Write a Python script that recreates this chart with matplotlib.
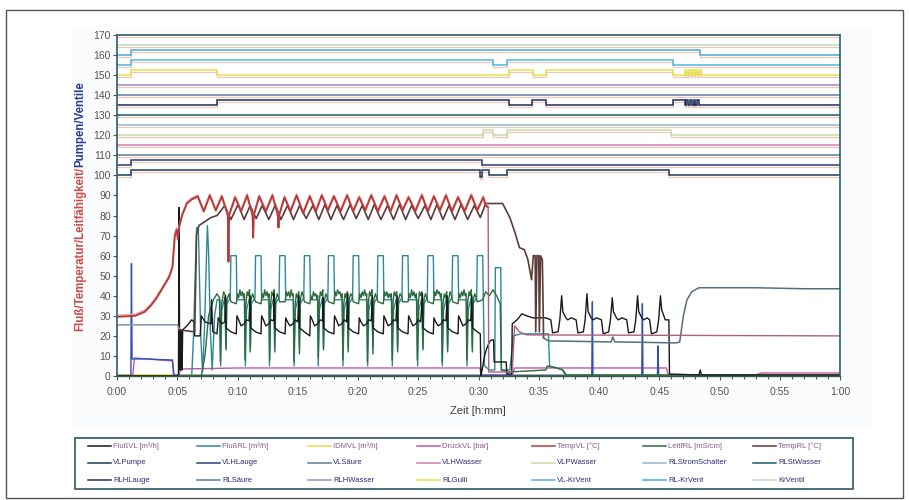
import matplotlib
matplotlib.use('Agg')
import matplotlib.pyplot as plt
from matplotlib.lines import Line2D
from matplotlib.patches import Rectangle

plt.rcParams['font.family'] = ['Liberation Sans', 'DejaVu Sans']

# ---------------- data (time in minutes) ----------------
x_ticks = [0, 5, 10, 15, 20, 25, 30, 35, 40, 45, 50, 55, 60]
x_labels = ["0:00", "0:05", "0:10", "0:15", "0:20", "0:25", "0:30",
            "0:35", "0:40", "0:45", "0:50", "0:55", "1:00"]
y_ticks = list(range(0, 171, 10))

# analog series
tempvl_t = [0, 1.5, 2.3, 2.8, 3.3, 3.8, 4.3, 4.6, 4.7, 4.8, 4.95, 5.05, 5.15, 5.4, 5.8, 6.2, 6.7,
            7.2, 7.7, 8.2, 8.7, 9.2, 9.25, 9.3, 9.8, 10.3, 10.8, 11.25, 11.3, 11.35, 11.8, 12.35,
            12.9, 13.35, 13.4, 13.45, 13.9, 14.4, 14.9, 15.45, 16.0, 16.5, 17.0, 17.5, 18.0, 18.55,
            19.1, 19.6, 20.1, 20.6, 21.1, 21.65, 22.2, 22.7, 23.2, 23.7, 24.2, 24.75, 25.3, 25.8,
            26.3, 26.8, 27.3, 27.8, 28.3, 28.85, 29.4, 29.9, 30.4, 30.6, 30.8, 30.85, 32.8, 33.0,
            33.4, 34.0, 60]
tempvl_v = [29.5, 30, 32, 35, 39, 44, 49, 54, 62, 70, 73, 68, 74, 80, 86, 88, 89.5,
            82, 90, 82.5, 89.5, 80, 57, 80, 89, 82, 90, 80, 69, 80, 89.5, 82,
            90, 80, 74, 80, 89, 82, 90, 81, 89.5, 82, 90, 82.5, 89.5, 82,
            90, 82, 89, 82.5, 90, 82, 89.5, 82, 90, 82.5, 89, 82, 90, 82,
            89.5, 82.5, 90, 82, 89, 82, 90, 82.5, 89, 85, 84, 2, 2, 25,
            22, 20.5, 20]

temprl_t = [0, 5.0, 5.2, 6.45, 6.6, 6.8, 7.3, 7.8, 8.3, 8.95, 9.45, 10.05, 10.55, 11.05, 11.55,
            12.05, 12.6, 13.15, 13.6, 14.15, 14.65, 15.15, 15.7, 16.25, 16.75, 17.25, 17.75, 18.25,
            18.8, 19.35, 19.85, 20.35, 20.85, 21.35, 21.9, 22.45, 22.95, 23.45, 23.95, 24.45, 25.0,
            25.55, 26.05, 26.55, 27.05, 27.55, 28.05, 28.55, 29.1, 29.65, 30.15, 30.6, 32.0, 32.6,
            33.0, 33.4, 33.8, 34.1, 34.4, 34.55, 34.7, 34.75, 34.85, 35.0, 35.05, 35.15, 35.3, 35.4,
            35.8, 41.0, 41.15, 41.3, 46.4, 46.7, 47.0, 47.3, 47.7, 48.3, 53, 57, 60]
temprl_v = [25.5, 25.5, 23, 22, 70, 75, 77, 79, 80, 85, 78, 85.5, 78, 85, 78.5,
            85, 78, 85.5, 78, 85, 78, 85, 78.5, 85, 78, 85.5, 78, 85,
            78, 85.5, 78.5, 85, 78, 85.5, 78, 85, 78, 85.5, 78, 85, 78.5,
            85, 78, 85.5, 78, 85, 78, 85.5, 78, 85, 79, 86, 86, 79,
            72, 64, 63, 58, 48, 60, 60, 22, 60, 60, 22, 60, 58, 19,
            17.5, 17, 19.5, 17, 16.5, 17, 30, 38, 42, 44, 44, 43.5, 43.5]

flussvl_t = [0, 5.1, 5.15, 5.2, 5.25, 5.3, 5.35, 5.4, 5.45, 5.8, 6.2, 6.4, 6.45, 6.9, 7.0, 7.3, 7.8,
             7.85, 7.95, 8.3, 8.4, 8.7, 8.95, 9.0, 9.05,
             9.45, 9.9, 9.95, 10.1, 10.3, 10.55, 10.75, 10.95, 11.05, 11.1,
             11.5, 11.95, 12.0, 12.15, 12.35, 12.6, 12.8, 13.0, 13.05, 13.1,
             13.5, 13.95, 14.0, 14.15, 14.35, 14.6, 14.8, 15.0, 15.1, 15.15,
             15.55, 16.0, 16.05, 16.2, 16.4, 16.65, 16.85, 17.05, 17.1, 17.15,
             17.55, 18.0, 18.05, 18.2, 18.4, 18.65, 18.85, 19.05, 19.15, 19.2,
             19.6, 20.05, 20.1, 20.25, 20.45, 20.7, 20.9, 21.1, 21.2, 21.25,
             21.65, 22.1, 22.15, 22.3, 22.5, 22.75, 22.95, 23.15, 23.25, 23.3,
             23.7, 24.15, 24.2, 24.35, 24.55, 24.8, 25.0, 25.2, 25.35, 25.4,
             25.8, 26.25, 26.3, 26.45, 26.65, 26.9, 27.1, 27.3, 27.4, 27.45,
             27.85, 28.3, 28.35, 28.5, 28.7, 28.95, 29.15, 29.35, 29.45, 29.5,
             29.9, 30.15, 30.2, 30.3, 30.5, 30.7, 30.9, 31.1, 31.25, 31.3, 32.3, 32.35, 32.75,
             32.8, 33.2, 33.6, 34.0, 34.5,
             35.6, 36.0, 36.15, 36.6, 36.75, 36.9, 37.0, 37.25, 37.4,
             37.7, 38.1, 38.25, 38.7, 38.85, 39.0, 39.1, 39.35, 39.5,
             39.8, 40.2, 40.35, 40.8, 40.95, 41.1, 41.2, 41.45, 41.6,
             41.9, 42.3, 42.45, 42.9, 43.05, 43.2, 43.3, 43.55, 43.7,
             44.0, 44.2, 44.35, 44.8, 44.95, 45.1, 45.2, 45.5, 45.8, 45.85, 48.3, 48.4, 48.5, 60]
flussvl_v = [0, 0, 84, 3, 23, 3, 23, 3, 23, 25, 28, 27, 20, 20, 30, 27, 26,
             38, 22, 21, 29, 26, 27, 40, 24,
             22, 21, 30, 28, 25, 26, 28, 27.5, 40, 24,
             22, 21, 30, 28, 25, 26, 28, 27.5, 41, 24,
             22, 21, 29, 27, 25, 26, 28, 27, 40, 24,
             22, 20, 30, 28, 25, 26, 28, 27.5, 39, 24,
             22, 21, 30, 28, 25, 26, 28, 27, 41, 24,
             22, 21, 29, 27, 25, 26, 28, 27.5, 40, 24,
             22, 21, 30, 28, 25, 26, 28, 27.5, 40, 24,
             22, 21, 30, 28, 25, 26, 28, 27, 41, 24,
             22, 21, 29, 27, 25, 26, 28, 27.5, 40, 24,
             22, 21, 30, 28, 25, 26, 28, 27.5, 40, 24,
             22, 21, 0, 3, 10, 14, 17, 18, 18, 7, 7, 1, 1,
             26, 28, 31, 30, 29,
             29, 28, 21.5, 22, 28, 40, 32, 29, 28,
             29, 28, 21.5, 22, 28, 41, 32, 29, 28,
             29, 28, 21, 22, 28, 39, 32, 29, 28,
             29, 28, 21.5, 22, 28, 40, 32, 29, 28,
             29, 28, 21, 22, 28, 40, 33, 28, 28, 1, 0.5, 3, 0.5, 0.5]

flussrl_t = [0, 6.2, 6.35, 6.6, 6.75, 6.95, 7.1, 7.25, 7.5, 7.6, 7.75, 7.9, 8.1, 8.3,
             8.55, 8.6, 8.7, 8.95, 9.03, 9.1, 9.4, 9.45, 9.9, 9.95,
             10.6, 10.65, 10.75, 11.0, 11.08, 11.15, 11.45, 11.5, 11.95, 12.0,
             12.6, 12.65, 12.75, 13.0, 13.08, 13.15, 13.45, 13.5, 13.95, 14.0,
             14.65, 14.7, 14.8, 15.05, 15.13, 15.2, 15.5, 15.55, 16.0, 16.05,
             16.65, 16.7, 16.8, 17.05, 17.13, 17.2, 17.5, 17.55, 18.0, 18.05,
             18.7, 18.75, 18.85, 19.1, 19.18, 19.25, 19.55, 19.6, 20.05, 20.1,
             20.75, 20.8, 20.9, 21.15, 21.23, 21.3, 21.6, 21.65, 22.1, 22.15,
             22.8, 22.85, 22.95, 23.2, 23.28, 23.35, 23.65, 23.7, 24.15, 24.2,
             24.9, 24.95, 25.05, 25.3, 25.38, 25.45, 25.75, 25.8, 26.25, 26.3,
             26.95, 27.0, 27.1, 27.35, 27.43, 27.5, 27.8, 27.85, 28.3, 28.35,
             29.0, 29.05, 29.15, 29.4, 29.48, 29.55, 29.85, 29.9, 30.35, 30.4,
             30.5, 30.9, 31.35, 31.4, 31.85, 31.9, 32.6, 32.9, 33.5, 35.8, 35.9, 36.5, 37.0, 37.2, 60]
flussrl_v = [0, 0, 20, 74, 74, 20, 2, 22, 75, 62, 22, 3, 30, 38,
             38, 5, 33, 39, 14, 36, 39, 60, 60, 38,
             38, 5, 33, 39, 14, 36, 39, 60, 60, 38,
             38, 5, 33, 39, 14, 36, 39, 60, 60, 38,
             38, 5, 33, 39, 14, 36, 39, 60, 60, 38,
             38, 5, 33, 39, 14, 36, 39, 60, 60, 38,
             38, 5, 33, 39, 14, 36, 39, 60, 60, 38,
             38, 5, 33, 39, 14, 36, 39, 60, 60, 38,
             38, 5, 33, 39, 14, 36, 39, 60, 60, 38,
             38, 5, 33, 39, 14, 36, 39, 60, 60, 38,
             38, 5, 33, 39, 14, 36, 39, 60, 60, 38,
             38, 5, 33, 39, 14, 36, 39, 60, 60, 38,
             5, 3, 3, 54, 54, 3, 3, 20, 21, 21, 5, 4, 3, 0, 0]

leitfrl_t = [0, 7.0, 7.3, 7.6, 8.0, 8.3, 8.5, 8.58, 8.68, 8.85, 9.0, 9.05, 9.12, 9.3, 9.45,
             9.9, 10.0, 10.1, 10.2, 10.3, 10.4, 10.5, 10.57, 10.62, 10.7, 10.8, 10.9, 11.0, 11.05, 11.13, 11.25, 11.37, 11.5,
             11.95, 12.05, 12.15, 12.25, 12.35, 12.45, 12.55, 12.62, 12.67, 12.75, 12.85, 12.95, 13.05, 13.1, 13.18, 13.3, 13.42, 13.5,
             13.95, 14.05, 14.15, 14.25, 14.35, 14.45, 14.55, 14.62, 14.68, 14.78, 14.88, 14.98, 15.08, 15.14, 15.22, 15.34, 15.46, 15.55,
             16.0, 16.1, 16.2, 16.3, 16.4, 16.5, 16.6, 16.65, 16.7, 16.78, 16.88, 16.98, 17.08, 17.14, 17.22, 17.34, 17.46, 17.55,
             18.0, 18.1, 18.2, 18.3, 18.4, 18.5, 18.6, 18.68, 18.74, 18.82, 18.92, 19.02, 19.12, 19.19, 19.27, 19.39, 19.51, 19.6,
             20.05, 20.15, 20.25, 20.35, 20.45, 20.55, 20.65, 20.72, 20.78, 20.86, 20.96, 21.06, 21.16, 21.24, 21.32, 21.44, 21.56, 21.65,
             22.1, 22.2, 22.3, 22.4, 22.5, 22.6, 22.7, 22.77, 22.83, 22.91, 23.01, 23.11, 23.21, 23.29, 23.37, 23.49, 23.61, 23.7,
             24.15, 24.25, 24.35, 24.45, 24.55, 24.65, 24.75, 24.85, 24.92, 25.0, 25.1, 25.2, 25.3, 25.39, 25.47, 25.59, 25.71, 25.8,
             26.25, 26.35, 26.45, 26.55, 26.65, 26.75, 26.85, 26.92, 26.98, 27.06, 27.16, 27.26, 27.36, 27.44, 27.52, 27.64, 27.76, 27.85,
             28.3, 28.4, 28.5, 28.6, 28.7, 28.8, 28.9, 28.97, 29.03, 29.11, 29.21, 29.31, 29.41, 29.49, 29.57, 29.69, 29.81, 29.9,
             30.35, 30.6, 30.9, 31.2, 31.5, 31.8, 31.9, 32.5, 35.6, 35.7, 36.5, 37.0, 37.3, 60]
leitfrl_v = [0, 0, 10, 30, 38, 41, 39, 7, 36, 42, 40, 13, 38, 41, 37,
             36, 41, 39, 43, 40, 42, 39, 41, 8, 36, 42, 40, 43, 12, 38, 41, 39, 37,
             36, 41, 39, 43, 40, 42, 39, 41, 8, 36, 42, 40, 43, 12, 38, 41, 39, 37,
             37, 42, 40, 42, 39, 43, 40, 41, 7, 35, 41, 39, 42, 11, 38, 42, 40, 37,
             36, 40, 38, 42, 40, 41, 38, 40, 9, 37, 42, 40, 43, 13, 38, 41, 39, 37,
             36, 42, 40, 43, 41, 42, 39, 41, 8, 36, 41, 39, 42, 12, 38, 41, 40, 37,
             36, 41, 39, 42, 40, 43, 40, 41, 7, 36, 42, 40, 43, 11, 38, 41, 39, 37,
             36, 42, 40, 42, 39, 41, 39, 41, 8, 37, 42, 40, 42, 12, 38, 41, 40, 37,
             37, 41, 39, 43, 40, 42, 39, 41, 8, 36, 42, 40, 42, 13, 38, 41, 39, 37,
             36, 42, 40, 43, 41, 42, 39, 41, 7, 36, 41, 39, 42, 12, 38, 42, 40, 37,
             36, 41, 39, 42, 40, 43, 40, 41, 8, 37, 42, 40, 43, 12, 38, 41, 39, 37,
             38, 42, 40, 43, 40, 36, 3, 2, 3, 5, 4, 3, 0.5, 0.5]

druckvl_t = [0, 1.3, 1.45, 2.5, 3.5, 4.6, 4.75, 5.1, 5.35, 10, 20, 30.1, 30.25, 32.8, 33.0, 45.6, 45.75, 53.0, 53.5, 60]
druckvl_v = [0, 0, 9, 8.5, 8, 7.5, 0.5, 0.5, 3.5, 4, 4, 4, 0.5, 0.5, 4, 4, 0.5, 0.5, 1.5, 1.5]

idmvl_t = [0, 60]
idmvl_v = [0.5, 0.5]

spikes_t = [0, 1.15, 1.2, 1.25, 2.5, 3.5, 4.6, 4.7, 39.4, 39.45, 39.5, 43.55, 43.6, 43.65, 44.85, 44.9, 44.95, 46.0]
spikes_v = [0.3, 0.3, 56, 8.5, 8.5, 8.2, 8, 0.3, 0.3, 37, 0.3, 0.3, 36, 0.3, 0.3, 15, 0.3, 0.3]

# digital series (step values, offset levels)
vlpumpe_t = [0, 1.2, 30.15, 30.25, 30.9, 32.4, 45.8, 60]
vlpumpe_v = [100, 102.5, 99, 102.5, 100, 102.5, 100, 100]
vlhlauge_t = [0, 1.2, 30.3, 60]
vlhlauge_v = [105, 107.5, 105, 105]
vlsaeure_t = [0, 60]
vlsaeure_v = [110, 110]
vlhwasser_t = [0, 60]
vlhwasser_v = [115, 115]
vlpwasser_t = [0, 30.4, 31.2, 32.4, 46.0, 60]
vlpwasser_v = [120, 122.5, 120, 122.5, 120, 120]
rlstrom_t = [0, 60]
rlstrom_v = [125, 125]
rlstwasser_t = [0, 60]
rlstwasser_v = [130, 130]
rlhlauge_t = [0, 8.3, 32.5, 34.4, 35.6, 46.1, 47.1, 47.25, 47.4, 47.55, 47.7, 47.85, 48.0, 48.15, 48.3, 48.45, 60]
rlhlauge_v = [135, 137.5, 135, 137.5, 135, 137.5, 135, 137.5, 135, 137.5, 135, 137.5, 135, 137.5, 135, 135, 135]
rlsaeure_t = [0, 60]
rlsaeure_v = [140, 140]
rlhwasser_t = [0, 60]
rlhwasser_v = [145, 145]
rlgulli_t = [0, 1.2, 8.3, 32.5, 34.5, 35.6, 46.1, 47.1, 47.25, 47.4, 47.55, 47.7, 47.85, 48.0, 48.15, 48.3, 48.45, 60]
rlgulli_v = [150, 152.5, 150, 152.5, 150, 152.5, 150, 152.5, 150, 152.5, 150, 152.5, 150, 152.5, 150, 152.5, 150, 150]
vlkrvent_t = [0, 1.2, 31.2, 32.4, 46.1, 60]
vlkrvent_v = [155, 157.5, 155, 157.5, 155, 155]
rlkrvent_t = [0, 1.2, 48.4, 60]
rlkrvent_v = [160, 162.5, 160, 160]
krventil_t = [0, 60]
krventil_v = [165, 165]

legend_row1 = ["FlußVL [m³/h]", "FlußRL [m³/h]", "IDMVL [m³/h]", "DruckVL [bar]",
               "TempVL [°C]", "LeitfRL [mS/cm]", "TempRL [°C]"]
legend_row2 = ["VLPumpe", "VLHLauge", "VLSäure", "VLHWasser", "VLPWasser",
               "RLStromSchalter", "RLStWasser"]
legend_row3 = ["RLHLauge", "RLSäure", "RLHWasser", "RLGulli", "VL-KrVent",
               "RL-KrVent", "KrVentil"]

# ---------------- styling ----------------
C = {
    "FlußVL [m³/h]": '#1a1a1a', "FlußRL [m³/h]": '#2b8a96', "IDMVL [m³/h]": '#e4dc48',
    "DruckVL [bar]": '#c258a8', "TempVL [°C]": '#b83a3a', "LeitfRL [mS/cm]": '#2d6b3c',
    "TempRL [°C]": '#5a3c38',
    "VLPumpe": '#1d3c5a', "VLHLauge": '#263f78', "VLSäure": '#5e7d99', "VLHWasser": '#d47cb4',
    "VLPWasser": '#c5dca8', "RLStromSchalter": '#92b6cf', "RLStWasser": '#1f5c6b',
    "RLHLauge": '#1c2d5c', "RLSäure": '#5b7fa0', "RLHWasser": '#a08cbc', "RLGulli": '#e6e24a',
    "VL-KrVent": '#4fb6e0', "RL-KrVent": '#45aadb', "KrVentil": '#bcdcc4',
}
GHOST = '#f4c6b4'

W, H = 909, 500
fig = plt.figure(figsize=(W / 100, H / 100), dpi=100)
fig.patch.set_facecolor('white')


def fx(px):
    return px / W


def fy(py):
    return 1 - py / H


# outer frame and chart area
fig.add_artist(Rectangle((fx(6), fy(498)), fx(903) - fx(6), fy(10) - fy(498),
                         transform=fig.transFigure, fill=False, ec='#555555', lw=1.0))
fig.add_artist(Rectangle((fx(73), fy(428)), fx(872) - fx(73), fy(29) - fy(428),
                         transform=fig.transFigure, fc='#fafbfc', ec='none', zorder=0))

ax = fig.add_axes([fx(117), fy(376), fx(840) - fx(117), fy(35) - fy(376)])
ax.set_facecolor('white')
ax.set_xlim(0, 60)
ax.set_ylim(0, 170)

lw = 1.0
# digital
digital = [
    ("VLPumpe", vlpumpe_t, vlpumpe_v), ("VLHLauge", vlhlauge_t, vlhlauge_v),
    ("VLSäure", vlsaeure_t, vlsaeure_v), ("VLHWasser", vlhwasser_t, vlhwasser_v),
    ("VLPWasser", vlpwasser_t, vlpwasser_v), ("RLStromSchalter", rlstrom_t, rlstrom_v),
    ("RLStWasser", rlstwasser_t, rlstwasser_v), ("RLHLauge", rlhlauge_t, rlhlauge_v),
    ("RLSäure", rlsaeure_t, rlsaeure_v), ("RLHWasser", rlhwasser_t, rlhwasser_v),
    ("RLGulli", rlgulli_t, rlgulli_v), ("VL-KrVent", vlkrvent_t, vlkrvent_v),
    ("RL-KrVent", rlkrvent_t, rlkrvent_v), ("KrVentil", krventil_t, krventil_v),
]
for name, t, v in digital:
    ax.plot(t, [val - 0.8 for val in v], drawstyle='steps-post', color=GHOST, lw=0.9, zorder=1.5)
    ax.plot(t, v, drawstyle='steps-post', color=C[name], lw=1.1, solid_joinstyle='miter', zorder=2)
ax.axhline(170 - 0.8, color=GHOST, lw=0.9, zorder=1.5)

# analog
ax.plot(idmvl_t, idmvl_v, color=C["IDMVL [m³/h]"], lw=1.3, zorder=2)
ax.plot(druckvl_t, druckvl_v, color=C["DruckVL [bar]"], lw=lw, zorder=2)
ax.plot(spikes_t, spikes_v, color='#3050b8', lw=lw, zorder=2)
ax.plot(flussrl_t, flussrl_v, color=C["FlußRL [m³/h]"], lw=lw, zorder=2)
ax.plot(leitfrl_t, leitfrl_v, color=C["LeitfRL [mS/cm]"], lw=lw, zorder=2)
ax.plot(flussvl_t, flussvl_v, color=C["FlußVL [m³/h]"], lw=lw, zorder=2)

# TempRL: idle segment (bluish grey), main segment (dark brown), tail (grey teal)
j = temprl_t.index(5.2)
k = temprl_t.index(35.4)
ax.plot(temprl_t[:j + 1], temprl_v[:j + 1], color='#7f93ad', lw=1.1, zorder=2)
ax.plot(temprl_t[j:k + 1], temprl_v[j:k + 1], color=C["TempRL [°C]"], lw=1.2, zorder=2)
ax.plot(temprl_t[k:], temprl_v[k:], color='#52707a', lw=1.1, zorder=2)

# TempVL: heating/oscillating part thick red, after the drop thin mauve
i = tempvl_t.index(30.8)
ax.plot(tempvl_t[:i + 1], [v + 0.8 for v in tempvl_v[:i + 1]], color='#eea0a0', lw=1.0, zorder=2)
ax.plot(tempvl_t[:i + 1], tempvl_v[:i + 1], color=C["TempVL [°C]"], lw=1.4, zorder=2)
ax.plot(tempvl_t[i:], tempvl_v[i:], color='#b0607e', lw=1.0, zorder=2)

# axes styling
for s in ['left', 'right', 'top']:
    ax.spines[s].set_color('#2b5d6b')
    ax.spines[s].set_linewidth(1.2)
ax.spines['bottom'].set_color('#3a5a4a')
ax.spines['bottom'].set_linewidth(1.0)
ax.set_yticks(y_ticks)
ax.set_xticks(x_ticks)
ax.set_xticklabels(x_labels)
ax.set_xticks(range(0, 61), minor=True)
ax.tick_params(axis='both', which='major', direction='out', length=3, width=0.8,
               color='#555555', labelcolor='#555555', labelsize=7.5)
ax.tick_params(axis='y', pad=1.5)
ax.tick_params(axis='x', pad=5)
ax.tick_params(axis='x', which='minor', direction='out', length=2.5, width=0.8, color='#555555')

# axis titles
fig.canvas.draw()
r = fig.canvas.get_renderer()
t1 = fig.text(fx(80), fy(331), "Fluß/Temperatur/Leitfähigkeit/", rotation=90, color='#d04a4a',
              fontsize=8.3, fontweight='bold', ha='center', va='bottom')
bb = t1.get_window_extent(r)
fig.text(fx(80), bb.y1 / H, "Pumpen/Ventile", rotation=90, color='#2a3a9a',
         fontsize=8.3, fontweight='bold', ha='center', va='bottom')
fig.text(fx(478), fy(411), "Zeit [h:mm]", ha='center', va='center', fontsize=8, color='#404040')

# legend (manual, Excel-style grid)
fig.add_artist(Rectangle((fx(75), fy(489)), fx(853) - fx(75), fy(438) - fy(489),
                         transform=fig.transFigure, fill=False, ec='#3d6470', lw=1.3))
col_x = [88, 197, 308, 417, 532, 643, 753]
row_y = [446, 463, 480]
row_colors = ['#8a5a8a', '#2c2c78', '#2c2c78']
for ri, row in enumerate([legend_row1, legend_row2, legend_row3]):
    for ci, name in enumerate(row):
        x0 = col_x[ci]
        y0 = row_y[ri]
        fig.add_artist(Line2D([fx(x0), fx(x0 + 23)], [fy(y0), fy(y0)], transform=fig.transFigure,
                              color=C[name], lw=1.1))
        fig.text(fx(x0 + 25), fy(y0), name, fontsize=5.5, color=row_colors[ri],
                 ha='left', va='center')

fig.savefig('out.png', dpi=100)
